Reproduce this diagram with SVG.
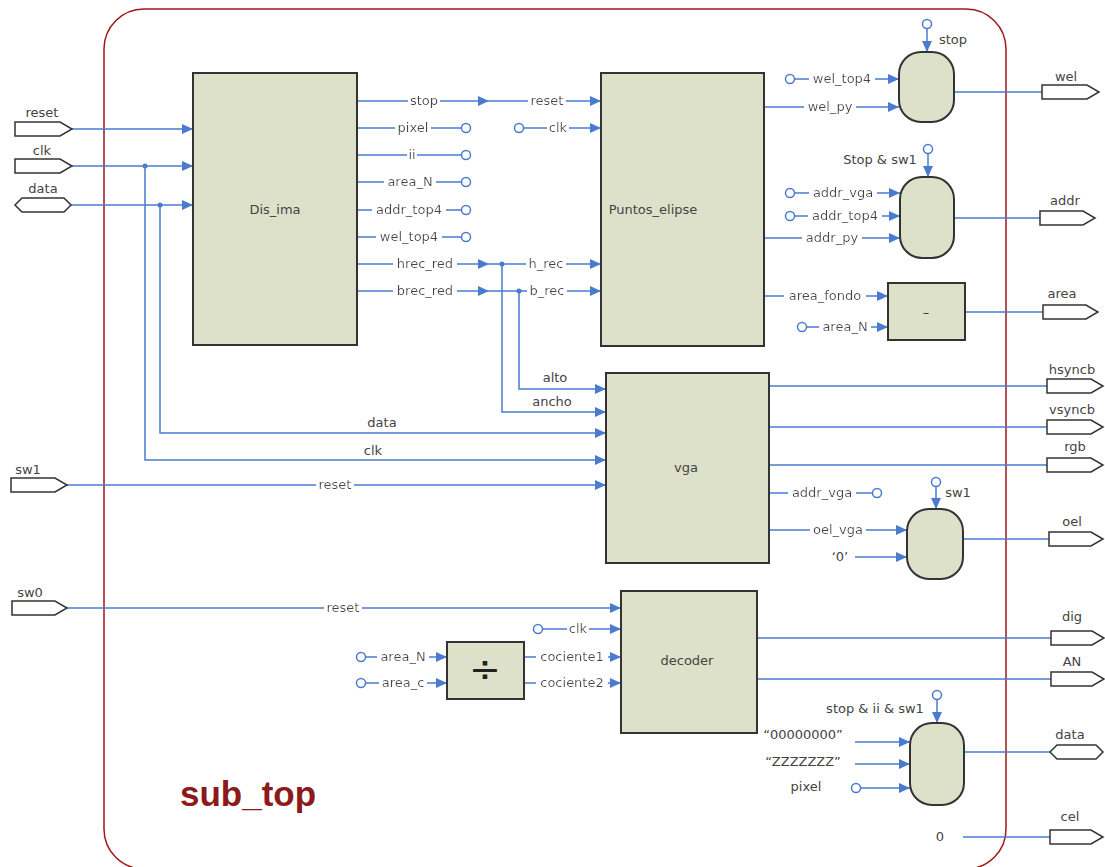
<svg xmlns="http://www.w3.org/2000/svg" width="1105" height="867" viewBox="0 0 1105 867">
<style>
.w{stroke:#4a7bd0;stroke-width:1.5;fill:none}
.a{marker-end:url(#ah)}
.t{font-family:"DejaVu Sans","Liberation Sans",sans-serif;font-size:13px;fill:#444;text-anchor:middle}
.on{filter:url(#bg)}
.box{fill:#dde1ca;stroke:#333;stroke-width:2}
.port{fill:#fff;stroke:#333;stroke-width:1.5}
.oc{fill:#fff;stroke:#4a7bd0;stroke-width:1.5}
.dot{fill:#4a7bd0}
</style>
<defs>
<marker id="ah" markerWidth="11" markerHeight="10" refX="11" refY="5" orient="auto" markerUnits="userSpaceOnUse"><path d="M0,0 L11,5 L0,10 z" fill="#4a7bd0"/></marker>
<filter id="bg" x="-0.06" y="0" width="1.12" height="1"><feFlood flood-color="#fff"/><feComposite in="SourceGraphic"/></filter>
</defs>
<rect width="1105" height="867" fill="#fff"/>
<g id="frame"><rect x="104" y="9" width="902" height="860" rx="40" fill="none" stroke="#a01818" stroke-width="1.5"/>
<text x="180" y="806" font-family="Liberation Sans,Arial,sans-serif" font-size="35" font-weight="bold" fill="#8b1a1a">sub_top</text></g>

<g id="connectors">
<path class="w a" d="M72,129 H193"/>
<path class="w a" d="M72,166 H193"/>
<path class="w a" d="M71,205 H193"/>
<path class="w a" d="M145,166 V460 H606"/>
<path class="w a" d="M160,205 V433 H606"/>
<circle class="dot" cx="145" cy="166" r="2.5"/>
<circle class="dot" cx="160" cy="205" r="2.5"/>
<text class="t" x="382" y="427">data</text>
<text class="t" x="373" y="455">clk</text>
<path class="w a" d="M67,485 H606"/>
<text class="t on" x="335" y="489">reset</text>
<path class="w a" d="M67,608 H621"/>
<text class="t on" x="343" y="612">reset</text>
<path class="w a" d="M357,101 H489"/><path class="w a" d="M489,101 H601"/>
<text class="t on" x="424" y="105">stop</text><text class="t on" x="547" y="105">reset</text>
<path class="w" d="M357,128 H462"/><circle class="oc" cx="466" cy="128" r="4.5"/>
<text class="t on" x="413" y="132">pixel</text>
<path class="w" d="M357,155 H462"/><circle class="oc" cx="466" cy="155" r="4.5"/>
<text class="t on" x="412" y="159">ii</text>
<path class="w" d="M357,182 H462"/><circle class="oc" cx="466" cy="182" r="4.5"/>
<text class="t on" x="410" y="186">area_N</text>
<path class="w" d="M357,210 H462"/><circle class="oc" cx="466" cy="210" r="4.5"/>
<text class="t on" x="409" y="214">addr_top4</text>
<path class="w" d="M357,237 H462"/><circle class="oc" cx="466" cy="237" r="4.5"/>
<text class="t on" x="409" y="241">wel_top4</text>
<path class="w a" d="M357,264 H489"/><path class="w a" d="M489,264 H601"/>
<path class="w a" d="M357,291 H489"/><path class="w a" d="M489,291 H601"/>
<path class="w a" d="M502,264 V412 H606"/>
<path class="w a" d="M519,291 V389 H606"/>
<circle class="dot" cx="502" cy="264" r="2.5"/>
<circle class="dot" cx="519" cy="291" r="2.5"/>
<text class="t on" x="425" y="268">hrec_red</text><text class="t on" x="546" y="268">h_rec</text>
<text class="t on" x="425" y="295">brec_red</text><text class="t on" x="547" y="295">b_rec</text>
<text class="t" x="555" y="382">alto</text>
<text class="t" x="552" y="406">ancho</text>
<circle class="oc" cx="519" cy="128" r="4.5"/><path class="w a" d="M523.5,128 H601"/>
<text class="t on" x="558" y="132">clk</text>
<path class="w a" d="M764,107 H899"/><text class="t on" x="830" y="111">wel_py</text>
<circle class="oc" cx="790" cy="79" r="4.5"/><path class="w a" d="M794.5,79 H899"/><text class="t on" x="842" y="83">wel_top4</text>
<circle class="oc" cx="927" cy="24" r="4.5"/><path class="w a" d="M927,28.5 V52"/>
<text class="t" x="953" y="44">stop</text>
<path class="w" d="M954,92 H1042"/>
<circle class="oc" cx="790" cy="193" r="4.5"/><path class="w a" d="M794.5,193 H900"/><text class="t on" x="843" y="197">addr_vga</text>
<circle class="oc" cx="790" cy="216" r="4.5"/><path class="w a" d="M794.5,216 H900"/><text class="t on" x="845" y="220">addr_top4</text>
<path class="w a" d="M764,238 H900"/><text class="t on" x="832" y="242">addr_py</text>
<circle class="oc" cx="928" cy="149" r="4.5"/><path class="w a" d="M928,153.5 V177"/>
<text class="t" x="880" y="164">Stop &amp; sw1</text>
<path class="w" d="M954,218 H1040"/>
<path class="w a" d="M764,296 H888"/><text class="t on" x="825" y="300">area_fondo</text>
<circle class="oc" cx="802" cy="327" r="4.5"/><path class="w a" d="M806.5,327 H888"/><text class="t on" x="845" y="331">area_N</text>
<path class="w" d="M965,312 H1043"/>
<path class="w" d="M769,386 H1047"/>
<path class="w" d="M769,427 H1047"/>
<path class="w" d="M769,465 H1047"/>
<path class="w" d="M769,493 H873"/><circle class="oc" cx="877" cy="493" r="4.5"/><text class="t on" x="822" y="497">addr_vga</text>
<path class="w a" d="M769,530 H907"/><text class="t on" x="838" y="534">oel_vga</text>
<text class="t" x="840" y="561">‘0’</text>
<path class="w a" d="M855,557 H907"/>
<circle class="oc" cx="936" cy="482" r="4.5"/><path class="w a" d="M936,486.5 V509"/>
<text class="t" x="958" y="497">sw1</text>
<path class="w" d="M963,539 H1049"/>
<circle class="oc" cx="538" cy="629" r="4.5"/><path class="w a" d="M542.5,629 H621"/><text class="t on" x="578" y="633">clk</text>
<path class="w a" d="M524,657 H621"/><text class="t on" x="572" y="661">cociente1</text>
<path class="w a" d="M524,683 H621"/><text class="t on" x="572" y="687">cociente2</text>
<circle class="oc" cx="361" cy="657" r="4.5"/><path class="w a" d="M365.5,657 H447"/><text class="t on" x="403" y="661">area_N</text>
<circle class="oc" cx="361" cy="683" r="4.5"/><path class="w a" d="M365.5,683 H447"/><text class="t on" x="403" y="687">area_c</text>
<path class="w" d="M757,638 H1051"/>
<path class="w" d="M757,679 H1051"/>
<circle class="oc" cx="937" cy="695" r="4.5"/><path class="w a" d="M937,699.5 V723"/>
<text class="t" x="875" y="713">stop &amp; ii &amp; sw1</text>
<text class="t" x="803" y="739">“00000000”</text>
<path class="w a" d="M855,742 H910"/>
<text class="t" x="803" y="766">“ZZZZZZZ”</text>
<path class="w a" d="M855,764 H910"/>
<text class="t" x="806" y="791">pixel</text>
<circle class="oc" cx="856" cy="788" r="4.5"/><path class="w a" d="M860.5,788 H910"/>
<path class="w" d="M964,752 H1050"/>
<text class="t" x="940" y="841">0</text>
<path class="w" d="M963,837 H1050"/>
</g>

<g id="dis_ima"><rect class="box" x="193" y="73" width="164" height="272"/><text class="t" x="275" y="214">Dis_ima</text></g>
<g id="puntos_elipse"><rect class="box" x="601" y="73" width="163" height="273"/><text class="t" x="653" y="214">Puntos_elipse</text></g>
<g id="vga"><rect class="box" x="606" y="373" width="163" height="190"/><text class="t" x="686" y="472">vga</text></g>
<g id="decoder"><rect class="box" x="621" y="591" width="136" height="142"/><text class="t" x="687" y="665">decoder</text></g>
<g id="mux_wel"><rect class="box" x="899" y="52" width="55" height="70" rx="22"/></g>
<g id="mux_addr"><rect class="box" x="900" y="177" width="54" height="81" rx="22"/></g>
<g id="sub_area"><rect class="box" x="888" y="283" width="77" height="57"/><text class="t" x="926" y="317" style="fill:#333">–</text></g>
<g id="mux_oel"><rect class="box" x="907" y="509" width="56" height="70" rx="22"/></g>
<g id="divider"><rect class="box" x="447" y="642" width="77" height="57"/><text class="t" x="485" y="682" style="font-size:38px;fill:#222">÷</text></g>
<g id="mux_data"><rect class="box" x="910" y="723" width="54" height="82" rx="22"/></g>

<g id="port_reset"><polygon class="port" points="15,122 60,122 72,129 60,136 15,136"/><text class="t" x="42" y="117">reset</text></g>
<g id="port_clk"><polygon class="port" points="15,159 60,159 72,166 60,173 15,173"/><text class="t" x="42" y="155">clk</text></g>
<g id="port_data_in"><polygon class="port" points="15,205 22,198 64,198 71,205 64,212 22,212"/><text class="t" x="43" y="193">data</text></g>
<g id="port_sw1"><polygon class="port" points="11,478 55,478 67,485 55,492 11,492"/><text class="t" x="28" y="474">sw1</text></g>
<g id="port_sw0"><polygon class="port" points="12,601 55,601 67,608 55,615 12,615"/><text class="t" x="30" y="597">sw0</text></g>
<g id="port_wel"><polygon class="port" points="1042,85 1087,85 1099,92 1087,99 1042,99"/><text class="t" x="1066" y="81">wel</text></g>
<g id="port_addr"><polygon class="port" points="1040,211 1083,211 1095,218 1083,225 1040,225"/><text class="t" x="1065" y="205">addr</text></g>
<g id="port_area"><polygon class="port" points="1043,305 1086,305 1098,312 1086,319 1043,319"/><text class="t" x="1062" y="298">area</text></g>
<g id="port_hsyncb"><polygon class="port" points="1047,379 1091,379 1103,386 1091,393 1047,393"/><text class="t" x="1072" y="374">hsyncb</text></g>
<g id="port_vsyncb"><polygon class="port" points="1047,420 1091,420 1103,427 1091,434 1047,434"/><text class="t" x="1072" y="414">vsyncb</text></g>
<g id="port_rgb"><polygon class="port" points="1047,458 1091,458 1103,465 1091,472 1047,472"/><text class="t" x="1075" y="451">rgb</text></g>
<g id="port_oel"><polygon class="port" points="1049,532 1091,532 1103,539 1091,546 1049,546"/><text class="t" x="1072" y="526">oel</text></g>
<g id="port_dig"><polygon class="port" points="1051,631 1092,631 1104,638 1092,645 1051,645"/><text class="t" x="1072" y="621">dig</text></g>
<g id="port_AN"><polygon class="port" points="1051,672 1092,672 1104,679 1092,686 1051,686"/><text class="t" x="1072" y="666">AN</text></g>
<g id="port_data_out"><polygon class="port" points="1050,752 1057,745 1096,745 1103,752 1096,759 1057,759"/><text class="t" x="1070" y="739">data</text></g>
<g id="port_cel"><polygon class="port" points="1050,830 1091,830 1103,837 1091,844 1050,844"/><text class="t" x="1070" y="821">cel</text></g>
</svg>
